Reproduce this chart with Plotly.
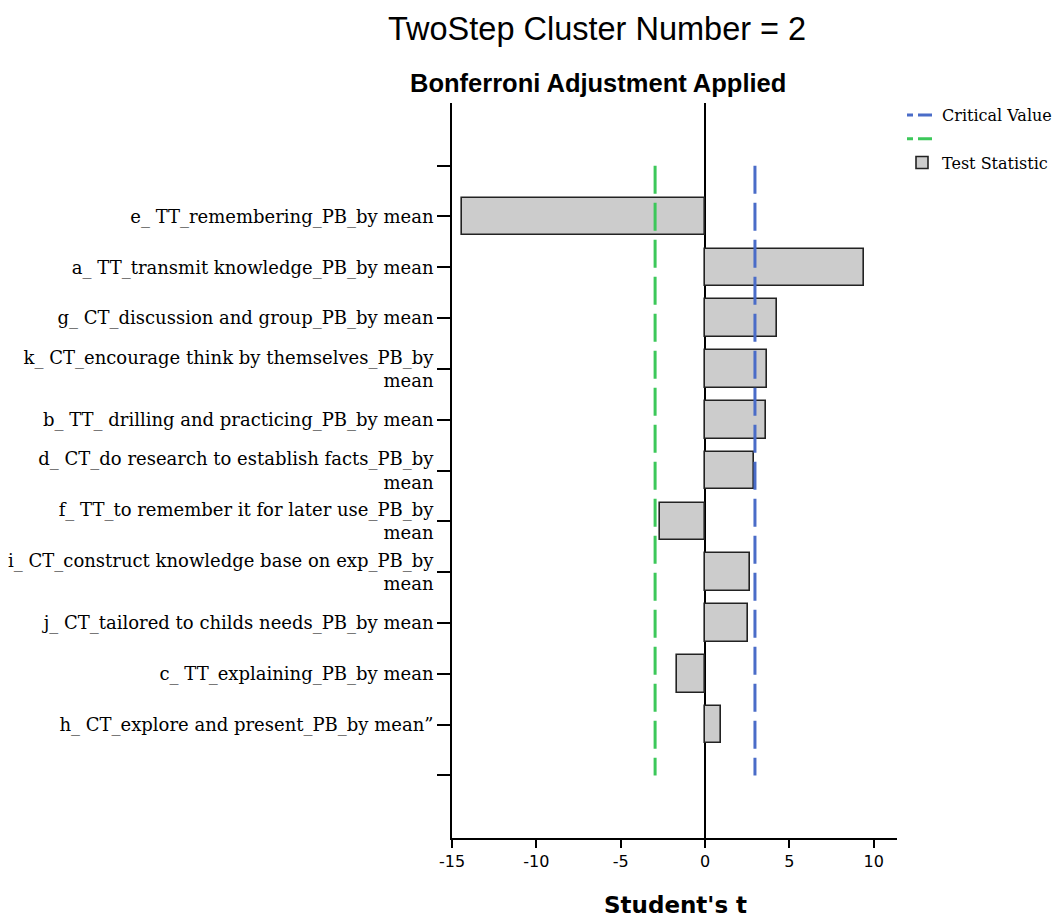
import plotly.graph_objects as go

categories = [
    "e_ TT_remembering_PB_by mean",
    "a_ TT_transmit knowledge_PB_by mean",
    "g_ CT_discussion and group_PB_by mean",
    "k_ CT_encourage think by themselves_PB_by<br>mean",
    "b_ TT_ drilling and practicing_PB_by mean",
    "d_ CT_do research to establish facts_PB_by<br>mean",
    "f_ TT_to remember it for later use_PB_by<br>mean",
    "i_ CT_construct knowledge base on exp_PB_by<br>mean",
    "j_ CT_tailored to childs needs_PB_by mean",
    "c_ TT_explaining_PB_by mean",
    "h_ CT_explore and present_PB_by mean\u201d",
]
t_values = [-14.38, 9.45, 4.29, 3.70, 3.60, 2.93, -2.67, 2.67, 2.53, -1.64, 0.93]
critical_value = 2.96
x_tick_values = [-15, -10, -5, 0, 5, 10]
x_tick_labels = ["-15", "-10", "-5", "0", "5", "10"]

positions = list(range(1, len(categories) + 1))
tick_positions = list(range(0, len(categories) + 2))
tick_labels = [""] + categories + [""]

BLUE = "#4A6CC8"
GREEN = "#3CC85A"

W, H = 1064, 918
L, R, T, B = 452, 167, 103, 80
pw = W - L - R
ph = H - T - B


def px(x):
    return (x - L) / pw


def py(y):
    return (H - B - y) / ph


fig = go.Figure()

fig.add_trace(go.Bar(
    x=t_values, y=positions, orientation="h", width=0.74,
    marker=dict(color="#CCCCCC", line=dict(color="#222222", width=1.6)),
    name="Test Statistic", legendrank=3, showlegend=True,
))
fig.add_trace(go.Scatter(
    x=[critical_value, critical_value], y=[tick_positions[0], tick_positions[-1]],
    mode="lines", line=dict(color=BLUE, width=3, dash="28px,9px"),
    name="Critical Value", showlegend=False,
))
fig.add_trace(go.Scatter(
    x=[-critical_value, -critical_value], y=[tick_positions[0], tick_positions[-1]],
    mode="lines", line=dict(color=GREEN, width=3, dash="28px,9px"),
    name="", showlegend=False,
))
# legend entries (short dashes as in the reference legend)
fig.add_trace(go.Scatter(
    x=[None], y=[None], mode="lines",
    line=dict(color=BLUE, width=3, dash="6px,5px,14px,5px"),
    name="Critical Value", legendrank=1,
))
fig.add_trace(go.Scatter(
    x=[None], y=[None], mode="lines",
    line=dict(color=GREEN, width=3, dash="6px,5px,14px,5px"),
    name="", legendrank=2,
))

fig.update_layout(
    width=W, height=H,
    margin=dict(l=L, r=R, t=T, b=B, autoexpand=False),
    paper_bgcolor="white", plot_bgcolor="white",
    bargap=0,
    legend=dict(
        x=px(902), y=py(98), xanchor="left", yanchor="top",
        font=dict(family="DejaVu Serif", size=16, color="black"),
        bgcolor="rgba(0,0,0,0)", traceorder="normal",
    ),
    xaxis=dict(
        range=[-15, 11.38], tickvals=x_tick_values, ticktext=x_tick_labels,
        showgrid=False, zeroline=True, zerolinecolor="black", zerolinewidth=1.6,
        showline=True, linecolor="black", linewidth=1.8,
        ticks="outside", ticklen=8, tickwidth=1.6, tickcolor="black",
        tickfont=dict(family="DejaVu Sans", size=16, color="black"),
    ),
    yaxis=dict(
        range=[13.23, -1.233], tickvals=tick_positions, ticktext=tick_labels,
        showgrid=False, zeroline=False,
        showline=True, linecolor="black", linewidth=1.8,
        ticks="outside", ticklen=13, tickwidth=1.6, tickcolor="black",
        tickfont=dict(family="DejaVu Serif", size=18, color="black"),
    ),
    annotations=[
        dict(text="TwoStep Cluster Number = 2", xref="paper", yref="paper",
             x=px(597), y=py(29), xanchor="center", yanchor="middle", showarrow=False,
             font=dict(family="Liberation Sans", size=32.5, color="black")),
        dict(text="<b>Bonferroni Adjustment Applied</b>", xref="paper", yref="paper",
             x=px(597.5), y=py(83), xanchor="center", yanchor="middle", showarrow=False,
             font=dict(family="Liberation Sans", size=25.5, color="black")),
        dict(text="<b>Student's t</b>", xref="paper", yref="paper",
             x=px(675.5), y=py(905), xanchor="center", yanchor="middle", showarrow=False,
             font=dict(family="DejaVu Sans", size=23, color="black")),
    ],
)

fig.write_html("out.html")
